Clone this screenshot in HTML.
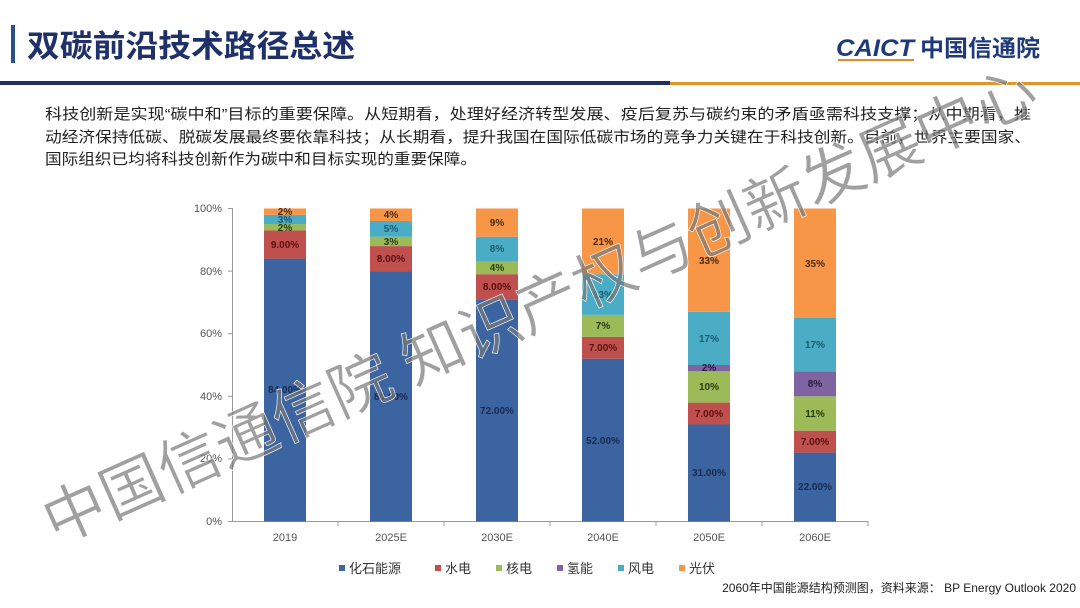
<!DOCTYPE html>
<html><head><meta charset="utf-8"><style>
html,body{margin:0;padding:0;background:#fff}
svg{display:block}
text{font-family:"Liberation Sans","Noto Sans CJK SC",sans-serif}
.l{font-size:10px;font-weight:bold;text-anchor:middle}
.ax{font-size:11px;fill:#555;font-family:"DejaVu Sans","Liberation Sans",sans-serif}
</style></head><body>
<svg width="1080" height="608" viewBox="0 0 1080 608" xmlns="http://www.w3.org/2000/svg">
<rect x="11" y="25" width="4" height="38" fill="#2a4f8f"/>
<text x="27" y="57" font-size="31" font-weight="bold" fill="#1f3168" textLength="328" lengthAdjust="spacingAndGlyphs">双碳前沿技术路径总述</text>
<text x="836" y="56" font-size="24" font-weight="bold" fill="#1f3a7a" font-style="italic" textLength="78" lengthAdjust="spacingAndGlyphs">CAICT</text>
<rect x="838" y="59" width="76" height="2" fill="#e08a2a"/>
<text x="920" y="56" font-size="23" font-weight="bold" fill="#1f3a7a" textLength="120" lengthAdjust="spacingAndGlyphs">中国信通院</text>
<rect x="0" y="81" width="670" height="4" fill="#1f2f60"/>
<rect x="670" y="82" width="410" height="3" fill="#e0962e"/>
<g font-size="15" fill="#222">
<text x="45" y="119" textLength="986" lengthAdjust="spacingAndGlyphs">科技创新是实现“碳中和”目标的重要保障。从短期看，处理好经济转型发展、疫后复苏与碳约束的矛盾亟需科技支撑；从中期看，推</text>
<text x="45" y="142" textLength="986" lengthAdjust="spacingAndGlyphs">动经济保持低碳、脱碳发展最终要依靠科技；从长期看，提升我国在国际低碳市场的竞争力关键在于科技创新。目前，世界主要国家、</text>
<text x="45" y="164" textLength="432" lengthAdjust="spacingAndGlyphs">国际组织已均将科技创新作为碳中和目标实现的重要保障。</text>
</g>
<!-- axes -->
<line x1="232.5" y1="208" x2="232.5" y2="522" stroke="#999"/>
<line x1="232" y1="521.5" x2="868" y2="521.5" stroke="#999"/>
<g stroke="#999">
<line x1="228" y1="208.5" x2="232" y2="208.5"/><line x1="228" y1="271.1" x2="232" y2="271.1"/><line x1="228" y1="333.7" x2="232" y2="333.7"/><line x1="228" y1="396.3" x2="232" y2="396.3"/><line x1="228" y1="458.9" x2="232" y2="458.9"/><line x1="228" y1="521.5" x2="232" y2="521.5"/>
<line x1="338" y1="521" x2="338" y2="526"/><line x1="444" y1="521" x2="444" y2="526"/><line x1="550" y1="521" x2="550" y2="526"/><line x1="656" y1="521" x2="656" y2="526"/><line x1="762" y1="521" x2="762" y2="526"/><line x1="868" y1="521" x2="868" y2="526"/>
</g>
<g class="ax" text-anchor="end">
<text x="222" y="212">100%</text><text x="222" y="275">80%</text><text x="222" y="337">60%</text><text x="222" y="400">40%</text><text x="222" y="462">20%</text><text x="222" y="525">0%</text>
</g>
<g class="ax" text-anchor="middle">
<text x="285" y="541">2019</text><text x="391" y="541">2025E</text><text x="497" y="541">2030E</text><text x="603" y="541">2040E</text><text x="709" y="541">2050E</text><text x="815" y="541">2060E</text>
</g>
<!-- bars -->
<g>
<rect x="264" y="258.6" width="42" height="262.9" fill="#3b64a0"/>
<rect x="264" y="230.4" width="42" height="28.2" fill="#c0504d"/>
<rect x="264" y="224.1" width="42" height="6.3" fill="#9bbb59"/>
<rect x="264" y="214.8" width="42" height="9.4" fill="#4bacc6"/>
<rect x="264" y="208.5" width="42" height="6.3" fill="#f79646"/>

<rect x="370" y="271.1" width="42" height="250.4" fill="#3b64a0"/>
<rect x="370" y="246.1" width="42" height="25" fill="#c0504d"/>
<rect x="370" y="236.7" width="42" height="9.4" fill="#9bbb59"/>
<rect x="370" y="221" width="42" height="15.7" fill="#4bacc6"/>
<rect x="370" y="208.5" width="42" height="12.5" fill="#f79646"/>

<rect x="476" y="299.3" width="42" height="222.2" fill="#3b64a0"/>
<rect x="476" y="274.2" width="42" height="25.1" fill="#c0504d"/>
<rect x="476" y="261.7" width="42" height="12.5" fill="#9bbb59"/>
<rect x="476" y="236.7" width="42" height="25" fill="#4bacc6"/>
<rect x="476" y="208.5" width="42" height="28.2" fill="#f79646"/>

<rect x="582" y="358.7" width="42" height="162.8" fill="#3b64a0"/>
<rect x="582" y="336.8" width="42" height="21.9" fill="#c0504d"/>
<rect x="582" y="314.9" width="42" height="21.9" fill="#9bbb59"/>
<rect x="582" y="274.2" width="42" height="40.7" fill="#4bacc6"/>
<rect x="582" y="208.5" width="42" height="65.7" fill="#f79646"/>

<rect x="688" y="424.5" width="42" height="97" fill="#3b64a0"/>
<rect x="688" y="402.6" width="42" height="21.9" fill="#c0504d"/>
<rect x="688" y="371.3" width="42" height="31.3" fill="#9bbb59"/>
<rect x="688" y="365" width="42" height="6.3" fill="#8064a2"/>
<rect x="688" y="311.8" width="42" height="53.2" fill="#4bacc6"/>
<rect x="688" y="208.5" width="42" height="103.3" fill="#f79646"/>

<rect x="794" y="452.6" width="42" height="68.9" fill="#3b64a0"/>
<rect x="794" y="430.7" width="42" height="21.9" fill="#c0504d"/>
<rect x="794" y="396.3" width="42" height="34.4" fill="#9bbb59"/>
<rect x="794" y="371.3" width="42" height="25" fill="#8064a2"/>
<rect x="794" y="318" width="42" height="53.3" fill="#4bacc6"/>
<rect x="794" y="208.5" width="42" height="109.5" fill="#f79646"/>
</g>
<!-- labels -->
<g class="l">
<text x="285" y="393" fill="#1a2a50">84.00%</text>
<text x="285" y="248" fill="#5a1010">9.00%</text>
<text x="285" y="231" fill="#2a3a10">2%</text>
<text x="285" y="223" fill="#1d5a70">3%</text>
<text x="285" y="215" fill="#4a2a10">2%</text>

<text x="391" y="400" fill="#1a2a50">80.00%</text>
<text x="391" y="262" fill="#5a1010">8.00%</text>
<text x="391" y="245" fill="#2a3a10">3%</text>
<text x="391" y="232" fill="#1d5a70">5%</text>
<text x="391" y="218" fill="#4a2a10">4%</text>

<text x="497" y="414" fill="#1a2a50">72.00%</text>
<text x="497" y="290" fill="#5a1010">8.00%</text>
<text x="497" y="271" fill="#2a3a10">4%</text>
<text x="497" y="252" fill="#1d5a70">8%</text>
<text x="497" y="226" fill="#4a2a10">9%</text>

<text x="603" y="444" fill="#1a2a50">52.00%</text>
<text x="603" y="351" fill="#5a1010">7.00%</text>
<text x="603" y="329" fill="#2a3a10">7%</text>
<text x="603" y="298" fill="#1d5a70">13%</text>
<text x="603" y="245" fill="#4a2a10">21%</text>

<text x="709" y="476" fill="#1a2a50">31.00%</text>
<text x="709" y="417" fill="#5a1010">7.00%</text>
<text x="709" y="390" fill="#2a3a10">10%</text>
<text x="709" y="371" fill="#2a1a40">2%</text>
<text x="709" y="342" fill="#1d5a70">17%</text>
<text x="709" y="264" fill="#4a2a10">33%</text>

<text x="815" y="490" fill="#1a2a50">22.00%</text>
<text x="815" y="445" fill="#5a1010">7.00%</text>
<text x="815" y="417" fill="#2a3a10">11%</text>
<text x="815" y="387" fill="#2a1a40">8%</text>
<text x="815" y="348" fill="#1d5a70">17%</text>
<text x="815" y="267" fill="#4a2a10">35%</text>
</g>
<!-- legend -->
<g font-size="13" fill="#333">
<rect x="339" y="565" width="6" height="6" fill="#3b64a0"/><text x="349" y="573">化石能源</text>
<rect x="435" y="565" width="6" height="6" fill="#c0504d"/><text x="445" y="573">水电</text>
<rect x="496" y="565" width="6" height="6" fill="#9bbb59"/><text x="506" y="573">核电</text>
<rect x="557" y="565" width="6" height="6" fill="#8064a2"/><text x="567" y="573">氢能</text>
<rect x="618" y="565" width="6" height="6" fill="#4bacc6"/><text x="628" y="573">风电</text>
<rect x="679" y="565" width="6" height="6" fill="#f79646"/><text x="689" y="573">光伏</text>
</g>
<text x="1076" y="592" font-size="12" fill="#222" text-anchor="end">2060年中国能源结构预测图，资料来源： BP Energy Outlook 2020</text>
<!-- watermark -->
<text x="0" y="0" font-size="62" fill="#777" fill-opacity="0.7" stroke="#fff" stroke-width="0.6" transform="translate(55,545) rotate(-24)" textLength="1080" lengthAdjust="spacingAndGlyphs">中国信通信院 知识产权与创新发展中心</text>
</svg>
</body></html>
